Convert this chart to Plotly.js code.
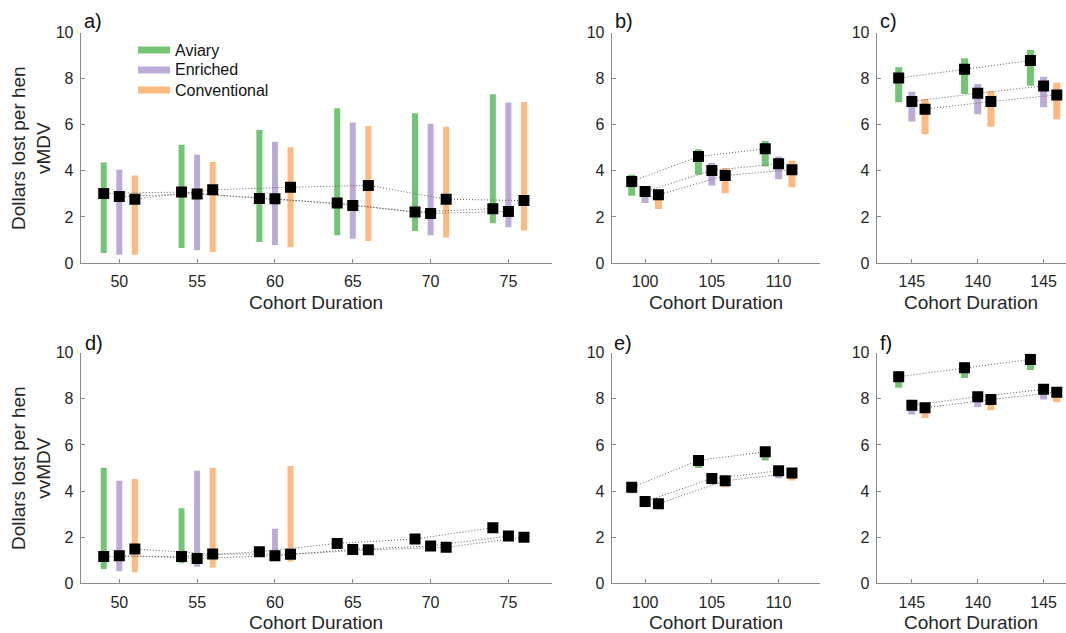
<!DOCTYPE html>
<html>
<head>
<meta charset="utf-8">
<script src="https://cdn.plot.ly/plotly-3.0.1.min.js"></script>
<style>html,body{margin:0;padding:0;background:#fff}#chart{width:1066px;height:633px}</style>
</head>
<body>
<div id="chart"></div>
<script>
// ---------------- DATA ----------------
const systems = ['Aviary', 'Enriched', 'Conventional'];
const durationsAD = [50, 55, 60, 65, 70, 75];
const durationsBE = [100, 105, 110];
const durationsCF = [135, 140, 145];
const tickTextCF = ['145', '140', '145'];

// Panel a (vMDV)
const aAvLo = [0.43, 0.65, 0.91, 1.20, 1.39, 1.73];
const aAvHi = [4.36, 5.14, 5.78, 6.72, 6.50, 7.33];
const aAvMid = [3.02, 3.08, 2.80, 2.60, 2.21, 2.36];
const aEnLo = [0.36, 0.55, 0.78, 1.05, 1.20, 1.55];
const aEnHi = [4.05, 4.70, 5.26, 6.10, 6.05, 6.97];
const aEnMid = [2.89, 3.00, 2.79, 2.50, 2.15, 2.24];
const aCoLo = [0.36, 0.48, 0.68, 0.95, 1.11, 1.41];
const aCoHi = [3.80, 4.39, 5.03, 5.95, 5.92, 6.99];
const aCoMid = [2.77, 3.18, 3.29, 3.37, 2.77, 2.71];

// Panel b (vMDV)
const bAvLo = [2.92, 3.83, 4.19];
const bAvHi = [3.83, 4.94, 5.30];
const bAvMid = [3.54, 4.62, 4.96];
const bEnLo = [2.60, 3.37, 3.64];
const bEnHi = [3.25, 4.34, 4.62];
const bEnMid = [3.10, 4.02, 4.31];
const bCoLo = [2.34, 3.03, 3.29];
const bCoHi = [3.18, 4.12, 4.44];
const bCoMid = [2.96, 3.80, 4.05];

// Panel c (vMDV)
const cAvLo = [6.98, 7.34, 7.70];
const cAvHi = [8.50, 8.89, 9.25];
const cAvMid = [8.03, 8.41, 8.79];
const cEnLo = [6.14, 6.46, 6.76];
const cEnHi = [7.44, 7.77, 8.09];
const cEnMid = [7.01, 7.37, 7.69];
const cCoLo = [5.59, 5.92, 6.24];
const cCoHi = [7.12, 7.47, 7.83];
const cCoMid = [6.68, 7.01, 7.30];

// Panel d (vvMDV)
const dAvLo = [0.62, 0.87, 1.20, 1.52, 1.80, 2.20];
const dAvHi = [5.01, 3.25, 1.50, 1.85, 2.05, 2.55];
const dAvMid = [1.16, 1.16, 1.37, 1.73, 1.92, 2.41];
const dEnLo = [0.52, 0.72, 1.00, 1.35, 1.50, 1.95];
const dEnHi = [4.45, 4.88, 2.37, 1.60, 1.75, 2.15];
const dEnMid = [1.20, 1.08, 1.20, 1.47, 1.62, 2.05];
const dCoLo = [0.48, 0.69, 0.95, 1.35, 1.45, 1.90];
const dCoHi = [4.52, 5.01, 5.09, 1.55, 1.70, 2.10];
const dCoMid = [1.49, 1.27, 1.26, 1.45, 1.56, 2.00];

// Panel e (vvMDV)
const eAvLo = [3.90, 5.00, 5.33];
const eAvHi = [4.30, 5.45, 5.80];
const eAvMid = [4.16, 5.33, 5.70];
const eEnLo = [3.30, 4.28, 4.56];
const eEnHi = [3.65, 4.65, 4.95];
const eEnMid = [3.55, 4.54, 4.88];
const eCoLo = [3.25, 4.17, 4.46];
const eCoHi = [3.55, 4.55, 4.85];
const eCoMid = [3.45, 4.45, 4.78];

// Panel f (vvMDV)
const fAvLo = [8.48, 8.90, 9.25];
const fAvHi = [9.20, 9.60, 9.95];
const fAvMid = [8.96, 9.35, 9.71];
const fEnLo = [7.32, 7.64, 7.97];
const fEnHi = [7.85, 8.20, 8.50];
const fEnMid = [7.72, 8.09, 8.41];
const fCoLo = [7.17, 7.50, 7.85];
const fCoHi = [7.75, 8.10, 8.40];
const fCoMid = [7.61, 7.97, 8.29];

// ---------------- STYLE ----------------
const W = 1066, H = 633;
const colors = ['#74c476', '#bcaad8', '#fdb97f'];
const offsets = [-1, 0, 1];
const FONT = 'Liberation Sans, Arial, Helvetica, sans-serif';
const px = v => v / W;
const py = v => 1 - v / H;

const panels = [
  {id: '', dur: durationsAD, lo: [aAvLo, aEnLo, aCoLo], hi: [aAvHi, aEnHi, aCoHi], mid: [aAvMid, aEnMid, aCoMid], bw: 6},
  {id: '2', dur: durationsBE, lo: [bAvLo, bEnLo, bCoLo], hi: [bAvHi, bEnHi, bCoHi], mid: [bAvMid, bEnMid, bCoMid], bw: 7},
  {id: '3', dur: durationsCF, lo: [cAvLo, cEnLo, cCoLo], hi: [cAvHi, cEnHi, cCoHi], mid: [cAvMid, cEnMid, cCoMid], bw: 7},
  {id: '4', dur: durationsAD, lo: [dAvLo, dEnLo, dCoLo], hi: [dAvHi, dEnHi, dCoHi], mid: [dAvMid, dEnMid, dCoMid], bw: 6},
  {id: '5', dur: durationsBE, lo: [eAvLo, eEnLo, eCoLo], hi: [eAvHi, eEnHi, eCoHi], mid: [eAvMid, eEnMid, eCoMid], bw: 7},
  {id: '6', dur: durationsCF, lo: [fAvLo, fEnLo, fCoLo], hi: [fAvHi, fEnHi, fCoHi], mid: [fAvMid, fEnMid, fCoMid], bw: 7}
];

const traces = [];
panels.forEach(p => {
  const xa = 'x' + p.id, ya = 'y' + p.id;
  // range bars
  systems.forEach((s, k) => {
    const xs = [], ys = [];
    p.dur.forEach((d, i) => {
      xs.push(d + offsets[k], d + offsets[k], null);
      ys.push(p.lo[k][i], p.hi[k][i], null);
    });
    traces.push({type: 'scatter', mode: 'lines', x: xs, y: ys, xaxis: xa, yaxis: ya,
      name: s, showlegend: false,
      line: {color: colors[k], width: p.bw}, hoverinfo: 'skip'});
  });
  // dotted connecting lines
  systems.forEach((s, k) => {
    traces.push({type: 'scatter', mode: 'lines', x: p.dur.map(d => d + offsets[k]), y: p.mid[k],
      xaxis: xa, yaxis: ya, showlegend: false,
      line: {color: '#606060', width: 1, dash: '1px,2px'}, hoverinfo: 'skip'});
  });
  // markers
  systems.forEach((s, k) => {
    traces.push({type: 'scatter', mode: 'markers', x: p.dur.map(d => d + offsets[k]), y: p.mid[k],
      xaxis: xa, yaxis: ya, showlegend: false, name: s,
      marker: {symbol: 'square', size: 11, color: '#000'}});
  });
});

const topY = [py(263), py(32.7)];
const botY = [py(583.3), py(352.7)];
const colA = [px(80.7), px(552)];
const colB = [px(611.7), px(820)];
const colC = [px(876.7), 1];

function xax(domain, range, anchor, tickvals, ticktext) {
  const o = {domain, range, anchor, showline: true, linecolor: '#8a8a8a', linewidth: 1,
    ticks: 'inside', ticklen: 4, tickcolor: '#8a8a8a', showgrid: false, zeroline: false,
    tickfont: {family: FONT, size: 16, color: '#262626'}, ticklabelstandoff: 4, fixedrange: true};
  if (tickvals) { o.tickmode = 'array'; o.tickvals = tickvals; o.ticktext = ticktext; }
  return o;
}
function yax(domain, anchor) {
  return {domain, range: [0, 10], anchor, showline: true, linecolor: '#8a8a8a', linewidth: 1,
    ticks: 'inside', ticklen: 4, tickcolor: '#8a8a8a', showgrid: false, zeroline: false,
    tickvals: [0, 2, 4, 6, 8, 10],
    tickfont: {family: FONT, size: 16, color: '#262626'}, ticklabelstandoff: 3, fixedrange: true};
}

const annotations = [];
const shapes = [];
const labels = [['a)', 82, 21], ['b)', 613, 21], ['c)', 878, 21], ['d)', 83, 343], ['e)', 612, 343], ['f)', 878, 343]];
labels.forEach(l => annotations.push({text: l[0], xref: 'paper', yref: 'paper', x: px(l[1]), y: py(l[2]),
  xanchor: 'left', yanchor: 'middle', showarrow: false, font: {family: FONT, size: 20, color: '#111'}}));
[[316, 303], [716, 303], [971, 303], [316, 622], [716, 622], [971, 622]].forEach(c =>
  annotations.push({text: 'Cohort Duration', xref: 'paper', yref: 'paper', x: px(c[0]), y: py(c[1]),
    xanchor: 'center', yanchor: 'middle', showarrow: false, font: {family: FONT, size: 19, color: '#262626'}}));
[['Dollars lost per hen<br>vMDV', 148], ['Dollars lost per hen<br>vvMDV', 468]].forEach(t =>
  annotations.push({text: t[0], xref: 'paper', yref: 'paper', x: px(31), y: py(t[1]), textangle: -90,
    xanchor: 'center', yanchor: 'middle', showarrow: false, font: {family: FONT, size: 19, color: '#262626'}}));

// legend (panel a): swatch + label per system
systems.forEach((s, k) => {
  const cy = 50 + 20 * k;
  shapes.push({type: 'rect', xref: 'paper', yref: 'paper', x0: px(138), x1: px(170),
    y0: py(cy + 3.5), y1: py(cy - 3.5), fillcolor: colors[k], line: {width: 0}});
  annotations.push({text: s, xref: 'paper', yref: 'paper', x: px(173), y: py(cy),
    xanchor: 'left', yanchor: 'middle', showarrow: false, font: {family: FONT, size: 16, color: '#111'}});
});

const layout = {
  width: W, height: H, margin: {l: 0, r: 0, t: 0, b: 0},
  paper_bgcolor: '#fff', plot_bgcolor: 'rgba(0,0,0,0)',
  font: {family: FONT, color: '#262626'},
  showlegend: false,
  xaxis: xax(colA, [47.52, 77.8], 'y'),
  yaxis: yax(topY, 'x'),
  xaxis2: xax(colB, [97.5, 113.1], 'y2'),
  yaxis2: yax(topY, 'x2'),
  xaxis3: xax(colC, [132.33, 146.7], 'y3', durationsCF, tickTextCF),
  yaxis3: yax(topY, 'x3'),
  xaxis4: xax(colA, [47.52, 77.8], 'y4'),
  yaxis4: yax(botY, 'x4'),
  xaxis5: xax(colB, [97.5, 113.1], 'y5'),
  yaxis5: yax(botY, 'x5'),
  xaxis6: xax(colC, [132.33, 146.7], 'y6', durationsCF, tickTextCF),
  yaxis6: yax(botY, 'x6'),
  shapes,
  annotations
};

Plotly.newPlot('chart', traces, layout, {displayModeBar: false, staticPlot: true});
</script>
</body>
</html>
